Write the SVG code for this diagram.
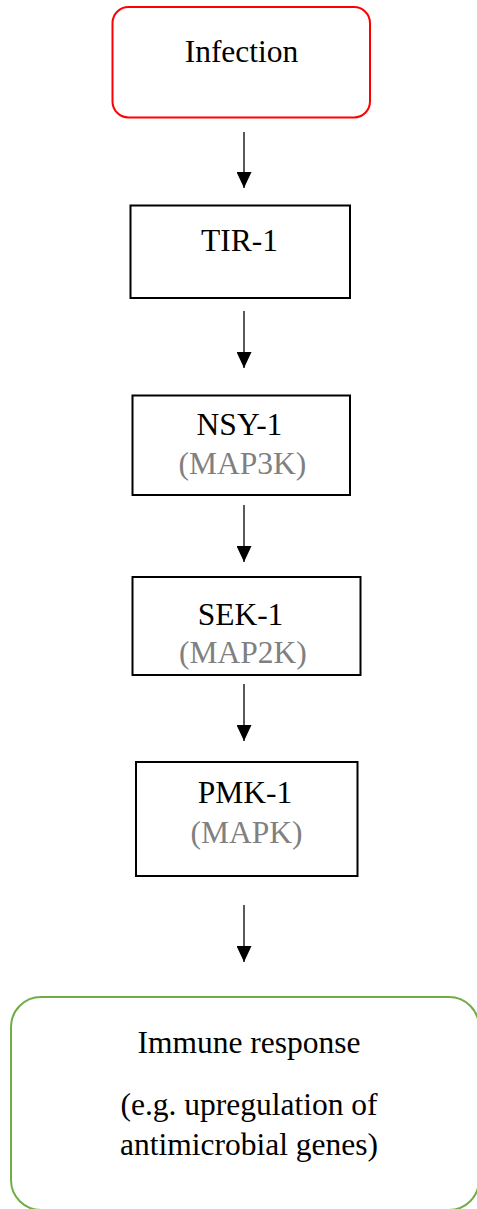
<svg xmlns="http://www.w3.org/2000/svg" width="477" height="1209" viewBox="0 0 477 1209">
  <defs>
    <marker id="head" viewBox="0 0 16 15" refX="16" refY="7.5" markerWidth="16" markerHeight="15" markerUnits="userSpaceOnUse" orient="auto">
      <path d="M0,0 L16,7.5 L0,15 Z" fill="#000"/>
    </marker>
  </defs>
  <style>
    text { font-family: "Liberation Serif", "Times New Roman", serif; font-size: 31.5px; text-anchor: middle; fill: #000; }
    .sub { fill: #808080; }
    .box { fill: #fff; stroke: #000; stroke-width: 2; }
    .link { stroke: #000; stroke-width: 1.3; fill: none; marker-end: url(#head); }
  </style>
  <rect width="477" height="1209" fill="#fff"/>

  <g id="infection">
    <rect x="112.5" y="7" width="257.5" height="110.5" rx="16" fill="#fff" stroke="#ff0000" stroke-width="2"/>
    <text x="241.5" y="62">Infection</text>
  </g>

  <g id="tir1">
    <rect class="box" x="130.5" y="205.5" width="219.5" height="92.5"/>
    <text x="239.5" y="251">TIR-1</text>
  </g>

  <g id="nsy1">
    <rect class="box" x="132.5" y="395.5" width="217.5" height="99.5"/>
    <text x="239.5" y="435">NSY-1</text>
    <text class="sub" x="242.5" y="474">(MAP3K)</text>
  </g>

  <g id="sek1">
    <rect class="box" x="132.5" y="577" width="228" height="98"/>
    <text x="240.5" y="625">SEK-1</text>
    <text class="sub" x="243" y="663">(MAP2K)</text>
  </g>

  <g id="pmk1">
    <rect class="box" x="136" y="762" width="221.5" height="114"/>
    <text x="245" y="803">PMK-1</text>
    <text class="sub" x="246.5" y="843">(MAPK)</text>
  </g>

  <g id="immune">
    <rect x="11" y="997" width="468" height="213" rx="30" fill="#fff" stroke="#70ad47" stroke-width="2"/>
    <text x="249" y="1053">Immune response</text>
    <text x="249" y="1115">(e.g. upregulation of</text>
    <text x="249" y="1155">antimicrobial genes)</text>
  </g>

  <g id="connectors">
    <line class="link" x1="244" y1="132" x2="244" y2="188"/>
    <line class="link" x1="244" y1="311" x2="244" y2="368"/>
    <line class="link" x1="244" y1="505" x2="244" y2="562"/>
    <line class="link" x1="244" y1="684" x2="244" y2="741"/>
    <line class="link" x1="244" y1="905" x2="244" y2="962"/>
  </g>
</svg>
